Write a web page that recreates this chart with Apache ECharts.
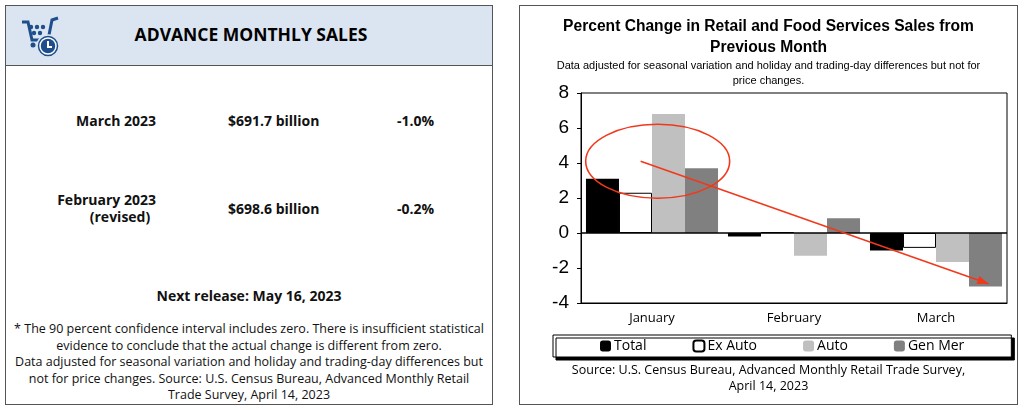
<!DOCTYPE html>
<html><head><meta charset="utf-8">
<script src="https://cdn.jsdelivr.net/npm/echarts@6/dist/echarts.min.js"></script>
<style>
body{margin:0;width:1024px;height:410px;background:#fff;font-family:"Open Sans",sans-serif;position:relative;overflow:hidden}
#left{position:absolute;left:5px;top:5px;width:486px;height:398px;border:1px solid #555}
#head{height:59px;background:#dbe5f1;border-bottom:1px solid #555;position:relative}
#head h1{margin:0;position:absolute;left:0;right:0;top:16px;text-align:center;font-size:17.5px;font-weight:bold;padding-left:4px}
.t{position:absolute;font-weight:bold;font-size:14px;color:#111;white-space:nowrap}
#note{position:absolute;left:0;right:0;top:315px;text-align:center;font-size:12.5px;line-height:16.6px;color:#111}
#right{position:absolute;left:519px;top:5px;width:497px;height:398px;border:1px solid #555}
#chart{position:absolute;left:0;top:0;width:497px;height:398px}
</style></head><body>
<div id="left">
 <div id="head">
  <svg width="44" height="46" style="position:absolute;left:14px;top:8px" viewBox="0 0 44 46">
   <path d="M2 8 L8 8 L12 26 L28 26 L32 6 L38 4" fill="none" stroke="#1f4e8c" stroke-width="3"/>
   <circle cx="13" cy="31" r="2.5" fill="#1f4e8c"/><circle cx="11" cy="13" r="2.2" fill="#1f4e8c"/><circle cx="17" cy="13" r="2.2" fill="#1f4e8c"/><circle cx="23" cy="13" r="2.2" fill="#1f4e8c"/><circle cx="14" cy="19" r="2.2" fill="#1f4e8c"/><circle cx="20" cy="19" r="2.2" fill="#1f4e8c"/>
   <circle cx="28" cy="32" r="11" fill="#1f4e8c" stroke="#dbe5f1" stroke-width="1.5"/><circle cx="28" cy="32" r="8" fill="none" stroke="#fff" stroke-width="1.5"/>
   <path d="M28 27 L28 33 L32 33" fill="none" stroke="#fff" stroke-width="2"/>
  </svg>
  <h1>ADVANCE MONTHLY SALES</h1>
 </div>
 <div class="t" style="left:70px;top:105px">March 2023</div>
 <div class="t" style="left:222px;top:105px">$691.7 billion</div>
 <div class="t" style="left:391px;top:105px">-1.0%</div>
 <div class="t" style="left:42px;top:184px;text-align:right;width:108px">February 2023</div>
 <div class="t" style="left:52px;top:201px;text-align:center;width:124px">(revised)</div>
 <div class="t" style="left:222px;top:193px">$698.6 billion</div>
 <div class="t" style="left:391px;top:193px">-0.2%</div>
 <div class="t" style="left:0;right:0;top:280px;text-align:center">Next release: May 16, 2023</div>
 <div id="note">* The 90 percent confidence interval includes zero. There is insufficient statistical<br>evidence to conclude that the actual change is different from zero.<br>Data adjusted for seasonal variation and holiday and trading-day differences but<br>not for price changes. Source: U.S. Census Bureau, Advanced Monthly Retail<br>Trade Survey, April 14, 2023</div>
</div>
<div id="right"><div id="chart"></div></div>
<script>
const months = ["January", "February", "March"];
const total = [3.1, -0.2, -1.0];
const exAuto = [2.3, 0.05, -0.85];
const auto = [6.8, -1.3, -1.65];
const genMer = [3.7, 0.85, -3.05];
const yTicks = [-4, -2, 0, 2, 4, 6, 8];

const chart = echarts.init(document.querySelector("#chart"));
const bar = (name, data, color, border) => ({
  name, type: "bar", data, barGap: "0%", barCategoryGap: "7%",
  itemStyle: { color, borderColor: border || color, borderWidth: border ? 1 : 0 }
});
chart.setOption({
  animation: false,
  title: {
    text: "Percent Change in Retail and Food Services Sales from\nPrevious Month",
    subtext: "Data adjusted for seasonal variation and holiday and trading-day differences but not for\nprice changes.",
    left: "center", top: 5, itemGap: 0,
    textStyle: { fontFamily: "Liberation Sans", fontSize: 15.6, fontWeight: "bold", color: "#000", lineHeight: 21 },
    subtextStyle: { fontFamily: "Liberation Sans", fontSize: 11, color: "#000", lineHeight: 15 }
  },
  grid: { left: 61, right: 10, top: 87, bottom: 101 },
  legend: {
    bottom: 47, left: 33, itemGap: 46, itemWidth: 11, itemHeight: 11,
    padding: [4, 47, 4, 47], borderColor: "#000", borderWidth: 1, backgroundColor: "#fff",
    shadowColor: "#000", shadowOffsetX: 3, shadowOffsetY: 3, shadowBlur: 0,
    textStyle: { fontFamily: "Open Sans", fontSize: 14, color: "#000", padding: [0, 0, 0, -2] },
    data: ["Total", "Ex Auto", "Auto", "Gen Mer"]
  },
  xAxis: {
    type: "category", data: months, position: "bottom",
    axisLine: { onZero: false, lineStyle: { color: "#000" } }, axisTick: { show: false },
    axisLabel: { color: "#000", fontFamily: "Open Sans", fontSize: 13, margin: 9 }
  },
  yAxis: {
    type: "value", min: -4, max: 8, interval: 2,
    axisLine: { show: true, lineStyle: { color: "#000" } },
    axisTick: { show: true, length: 4, lineStyle: { color: "#000" } },
    splitLine: { show: false },
    axisLabel: { color: "#000", fontFamily: "Liberation Sans", fontSize: 19, margin: 12,
      formatter: v => yTicks.includes(v) ? String(v) : "" }
  },
  series: [
    bar("Total", total, "#000"),
    bar("Ex Auto", exAuto, "#fff", "#000"),
    bar("Auto", auto, "#c0c0c0"),
    bar("Gen Mer", genMer, "#808080"),
    { type: "line", data: [], markLine: { silent: true, symbol: "none", label: { show: false },
      lineStyle: { color: "#000", type: "solid", width: 1.5 }, data: [{ yAxis: 0 }] } }
  ]
});

// plot frame + annotations, placed from axis coordinates
const px = (i, y) => chart.convertToPixel({ gridIndex: 0 }, [i, y]);
const p0 = px(0, 0), step = px(1, 0)[0] - p0[0];
const pt = (f, y) => [p0[0] + f * step, px(0, y)[1]];
const tl = pt(-0.5, 8), br = pt(2.5, -4);
const c = pt(0.04, 4.1), a0 = pt(-0.08, 4.1), a1 = pt(2.37, -2.9);
const ang = Math.atan2(a1[1] - a0[1], a1[0] - a0[0]);
const head = s => [a1[0] - 12 * Math.cos(ang + s * 0.35), a1[1] - 12 * Math.sin(ang + s * 0.35)];
chart.setOption({ graphic: [
  { type: "rect", shape: { x: tl[0], y: tl[1], width: br[0] - tl[0], height: br[1] - tl[1] },
    style: { fill: "none", stroke: "#000", lineWidth: 1 }, z: 10 },
  { type: "ellipse", shape: { cx: c[0], cy: c[1], rx: 72, ry: 37 },
    style: { fill: "none", stroke: "#f0391c", lineWidth: 1.6 }, z: 20 },
  { type: "line", shape: { x1: a0[0], y1: a0[1], x2: a1[0], y2: a1[1] },
    style: { stroke: "#f0391c", lineWidth: 1.6 }, z: 20 },
  { type: "polygon", shape: { points: [a1, head(1), head(-1)] },
    style: { fill: "#f0391c" }, z: 20 },
  { type: "text", left: "center", top: 356, z: 20,
    style: { text: "Source: U.S. Census Bureau, Advanced Monthly Retail Trade Survey,\nApril 14, 2023",
      font: "12.5px 'Open Sans'", fill: "#000", textAlign: "center", lineHeight: 16 } }
] });
</script>
</body></html>
